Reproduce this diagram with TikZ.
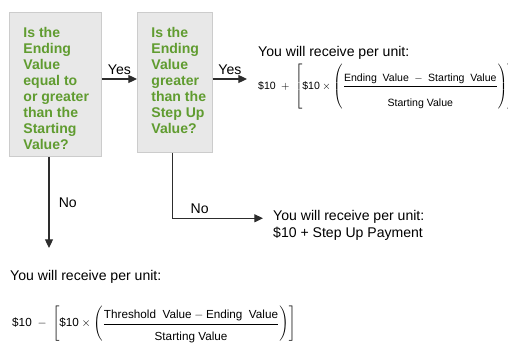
\documentclass[tikz,border=0pt]{standalone}
\usepackage{fontspec}
\setmainfont{Liberation Sans}
\usepackage{amsmath}
\usetikzlibrary{calc,arrows.meta,positioning}
\definecolor{qgreen}{RGB}{96,156,48}
\definecolor{boxfill}{RGB}{232,232,232}
\definecolor{boxline}{RGB}{204,204,204}
\definecolor{flowline}{RGB}{45,45,45}

\newcommand{\qlines}[3]{\parbox[t][#1][t]{#2}{\begin{tabular}[t]{@{}l@{}}#3\end{tabular}}}

\tikzset{
  qbox/.style={draw=boxline,fill=boxfill,line width=0.7pt,anchor=north west,
    inner xsep=4.2mm,inner ysep=4.2mm,text=qgreen,
    font=\fontsize{12}{13.7}\selectfont\bfseries},
  flow/.style={draw=flowline,line width=1pt,-{Triangle[length=2.6mm,width=2.4mm]}},
  lbl/.style={font=\fontsize{12}{14}\selectfont},
  res/.style={font=\fontsize{12}{14.5}\selectfont,align=left,anchor=north west,inner sep=0pt},
  fml/.style={anchor=west,inner ysep=0pt,inner xsep=0pt},
}

\begin{document}
\begin{tikzpicture}[x=0.3mm,y=-0.3mm]
\useasboundingbox (0,0) rectangle (508,343);

\node[qbox] (q1) at (9,12) {\qlines{34.8mm}{19.2mm}{Is the\\Ending\\Value\\equal to\\or greater\\than the\\Starting\\Value?}};
\node[qbox] (q2) at (137,12) {\qlines{33.6mm}{14.1mm}{Is the\\Ending\\Value\\greater\\than the\\Step Up\\Value?}};

\node[res] (r1) at (258,46) {You will receive per unit:};
\node[fml,inner xsep=3.3mm,font=\fontsize{9}{11}\selectfont,below left=10.2mm and 3.3mm of r1.west,anchor=west] (r1f)
  {$\mbox{\$10}\;+\;\left[\mbox{\$10}\times\left(\dfrac{\mbox{Ending\ \ Value}\; - \;\mbox{Starting\ \ Value}\rule[-3pt]{0pt}{3pt}}{\mbox{Starting Value}\rule{0pt}{16pt}}\right)\right]$};

\node[res,inner xsep=3mm] (r2) at (263,210) {You will receive per unit:\\\$10 + Step Up Payment};

\node[res] (r3) at (10,270) {You will receive per unit:};
\node[fml,font=\fontsize{10}{12}\selectfont,below right=14.4mm and 0.6mm of r3.west,anchor=west] (r3f)
  {$\mbox{\$10}\;-\;\left[\mbox{\$10}\times\left(\dfrac{\mbox{Threshold\ \ Value} - \mbox{Ending\ \ Value}\rule[-3pt]{0pt}{3pt}}{\mbox{Starting Value}\rule{0pt}{13pt}}\right)\right]$};

\coordinate (y1) at ($(q1.north east)+(0,67)$);
\coordinate (y2) at ($(q2.north east)+(0,67)$);
\coordinate (n1end) at (49,248);

\draw[flow] (y1) -- (y1 -| q2.west) node[lbl,midway,above] (yes1) {Yes};
\draw[flow] (y2) -- (y2 -| r1f.west) node[lbl,midway,above] (yes2) {Yes};
\draw[flow] (q1.south -| n1end) -- (n1end) node[lbl,midway,right=1.6mm] (no1) {No};
\draw[flow] ([xshift=-0.75mm]q2.south) |- ([yshift=2.1mm]r2.west) node[lbl,pos=0.65,above] (no2) {No};

\end{tikzpicture}
\end{document}
